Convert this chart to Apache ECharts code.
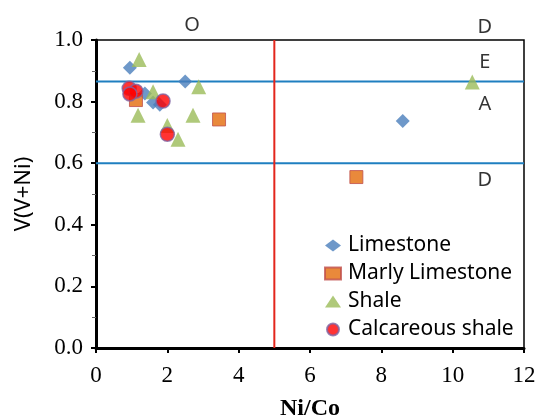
<!DOCTYPE html>
<html>
<head>
<meta charset="utf-8">
<script src="https://cdn.jsdelivr.net/npm/echarts@6/dist/echarts.min.js"></script>
<style>
  html, body { margin: 0; padding: 0; background: #fff; }
  #chart { width: 544px; height: 419px; }
</style>
</head>
<body>
<div id="chart"></div>
<script>
// data
var limestone = [[0.95, 0.91], [2.5, 0.865], [1.37, 0.826], [1.6, 0.797], [1.79, 0.79], [8.6, 0.737]];
var marlyLimestone = [[1.12, 0.805], [3.45, 0.742], [7.3, 0.555]];
var shale = [[1.21, 0.937], [2.88, 0.848], [1.6, 0.832], [1.18, 0.756], [2.72, 0.756], [2.0, 0.722], [2.3, 0.678], [10.55, 0.864]];
var calcShale = [[0.93, 0.843], [1.12, 0.834], [0.95, 0.825], [1.88, 0.802], [2.0, 0.694]];

// boundaries
var upperLine = [[0, 0.865], [12, 0.865]];
var lowerLine = [[0, 0.6], [12, 0.6]];
var niCoLine = [[5, 0], [5, 1]];

// zone labels
var zoneLabels = [
  { name: 'O', value: [2.69, 1.049] },
  { name: 'D', value: [10.9, 1.042] },
  { name: 'E', value: [10.9, 0.929] },
  { name: 'A', value: [10.9, 0.792] },
  { name: 'D', value: [10.9, 0.545] }
];

var chart = echarts.init(document.getElementById('chart'));

var option = {
  animation: false,
  grid: {
    left: 96, right: 20, top: 40, bottom: 71,
    outerBoundsMode: 'none', containLabel: false,
    show: true, borderColor: '#000', borderWidth: 1.5, backgroundColor: 'transparent'
  },
  legend: {
    orient: 'vertical',
    left: 319, top: 230,
    itemGap: 7,
    itemWidth: 16, itemHeight: 12,
    textStyle: { fontFamily: 'Noto Sans', fontSize: 21, color: '#000', padding: [0, 0, 0, 2] },
    data: ['Limestone', 'Marly Limestone', 'Shale', 'Calcareous shale']
  },
  xAxis: {
    type: 'value', min: 0, max: 12, interval: 2,
    name: 'Ni/Co', nameLocation: 'middle', nameGap: 49,
    nameTextStyle: { fontFamily: 'Liberation Serif', fontWeight: 'bold', fontSize: 24, color: '#000' },
    axisLine: { show: true, lineStyle: { color: '#000', width: 3 } },
    axisTick: { show: true, length: 5, lineStyle: { color: '#000', width: 2 } },
    axisLabel: { fontFamily: 'Liberation Serif', fontSize: 23, color: '#000', margin: 16 },
    splitLine: { show: false }
  },
  yAxis: {
    type: 'value', min: 0, max: 1, interval: 0.2,
    name: 'V(V+Ni)', nameLocation: 'middle', nameGap: 61,
    nameTextStyle: { fontFamily: 'Noto Sans', fontSize: 22, color: '#000' },
    axisLine: { show: true, lineStyle: { color: '#000', width: 3 } },
    axisTick: { show: true, length: 5, lineStyle: { color: '#000', width: 2 } },
    minorTick: { show: true, splitNumber: 2, length: 4, lineStyle: { color: '#666', width: 1 } },
    axisLabel: {
      fontFamily: 'Liberation Serif', fontSize: 23, color: '#000', margin: 13,
      formatter: function (v) { return v.toFixed(1); }
    },
    splitLine: { show: false }
  },
  series: [
    {
      type: 'line', data: upperLine, symbol: 'none', silent: true,
      lineStyle: { color: '#1f7fc0', width: 2 }, z: 1
    },
    {
      type: 'line', data: lowerLine, symbol: 'none', silent: true,
      lineStyle: { color: '#1f7fc0', width: 2 }, z: 1
    },
    {
      type: 'line', data: niCoLine, symbol: 'none', silent: true,
      lineStyle: { color: '#e3261c', width: 2 }, z: 1
    },
    {
      name: 'Limestone', type: 'scatter', data: limestone,
      symbol: 'diamond', symbolSize: 14,
      itemStyle: { color: '#4a7ebb' }, z: 3
    },
    {
      name: 'Marly Limestone', type: 'scatter', data: marlyLimestone,
      symbol: 'rect', symbolSize: 13,
      itemStyle: { color: '#e46c0a', borderColor: '#c0504d', borderWidth: 1 }, z: 3
    },
    {
      name: 'Shale', type: 'scatter', data: shale,
      symbol: 'triangle', symbolSize: 15,
      itemStyle: { color: '#9bbb59' }, z: 3
    },
    {
      name: 'Calcareous shale', type: 'scatter', data: calcShale,
      symbol: 'circle', symbolSize: 14,
      itemStyle: { color: '#ff0000', borderColor: '#8064a2', borderWidth: 1.5 }, z: 4
    },
    {
      type: 'scatter', data: zoneLabels, symbolSize: 0, clip: false, silent: true,
      label: {
        show: true, position: 'inside', formatter: '{b}',
        fontFamily: 'Noto Sans', fontSize: 20, color: '#000'
      },
      z: 5
    }
  ]
};

chart.setOption(option);
</script>
</body>
</html>
